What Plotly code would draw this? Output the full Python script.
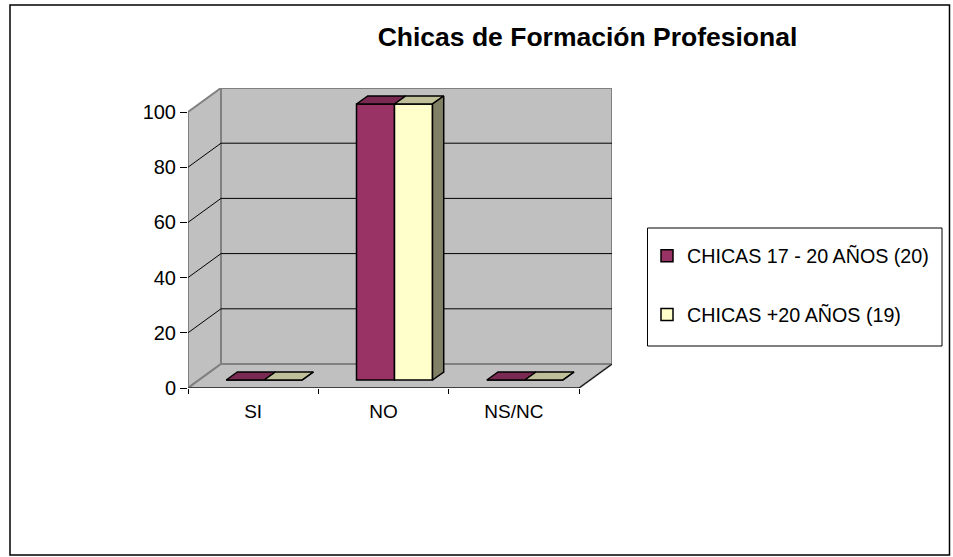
import plotly.graph_objects as go

categories = ["SI", "NO", "NS/NC"]
series_names = ["CHICAS 17 - 20 AÑOS (20)", "CHICAS +20 AÑOS (19)"]
values_a = [0, 100, 0]
values_b = [0, 100, 0]
y_ticks = [0, 20, 40, 60, 80, 100]
title_text = "Chicas de Formación Profesional"

W, H = 953, 557
FONT = "Liberation Sans, Arial, sans-serif"
L, R, BOT, TOP = 188, 612, 388, 88      # axis box in px (includes depth)
CAT_PX = (579 - 188) / 3
Y_PX = (388 - 112) / 100
DX = 33 / CAT_PX                         # full depth in x units
DY = 24 / Y_PX                           # full depth in y units
BW = 38 / CAT_PX
NEAR_X, NEAR_Y = DX / 3, DY / 3          # bars start a third into the depth
DEEP_X, DEEP_Y = DX * 0.34, DY / 3       # bars' own depth

WALL = "#C0C0C0"
EDGE = "#808080"
COL_A, COL_A_TOP = "#993366", "#7A2952"
COL_B, COL_B_TOP, COL_B_SIDE = "#FFFFCC", "#BFBF99", "#808066"


def poly(pts):
    return "M" + "L".join(f"{x},{y}" for x, y in pts) + "Z"


x0, x1 = -0.5, 2.5
shapes = []
# walls and floor
for pts in [
    [(x0 + DX, DY), (x1 + DX, DY), (x1 + DX, 100 + DY), (x0 + DX, 100 + DY)],
    [(x0, 0), (x0 + DX, DY), (x0 + DX, 100 + DY), (x0, 100)],
    [(x0, 0), (x1, 0), (x1 + DX, DY), (x0 + DX, DY)],
]:
    shapes.append(dict(type="path", path=poly(pts), xref="x", yref="y", layer="below",
                       fillcolor=WALL, line=dict(color=EDGE, width=2)))
# gridlines
for t in y_ticks[1:-1]:
    shapes.append(dict(type="path", xref="x", yref="y", layer="below",
                       path=f"M{x0},{t}L{x0 + DX},{t + DY}L{x1 + DX},{t + DY}",
                       line=dict(color="black", width=1)))
# front floor edge
shapes.append(dict(type="path", xref="x", yref="y", layer="below",
                   path=f"M{x0},0L{x1},0L{x1 + DX},{DY}",
                   line=dict(color="black", width=1)))
# legend box and outer frame
shapes.append(dict(type="rect", xref="paper", yref="paper", layer="below",
                   x0=647.5 / W, x1=942 / W, y0=1 - 346 / H, y1=1 - 228 / H,
                   line=dict(color="black", width=1), fillcolor="white"))
shapes.append(dict(type="rect", xref="paper", yref="paper", layer="below",
                   x0=10 / W, x1=949.5 / W, y0=1 - 555 / H, y1=1 - 5 / H,
                   line=dict(color="black", width=1.5), fillcolor="rgba(0,0,0,0)"))

fig = go.Figure()
LINE = dict(color="black", width=1.5)
for i, (name, vals, col) in enumerate(zip(series_names, [values_a, values_b], [COL_A, COL_B])):
    left = [k + NEAR_X - BW + i * BW for k in range(len(categories))]
    fig.add_trace(go.Bar(x=[k for k in range(len(categories))], y=vals, base=NEAR_Y, width=BW,
                         offset=[l - k for k, l in enumerate(left)],
                         marker=dict(color=col, line=LINE), name=name,
                         legendgroup=name, hoverinfo="skip"))

for i, (vals, top_col) in enumerate(zip([values_a, values_b], [COL_A_TOP, COL_B_TOP])):
    for k, v in enumerate(vals):
        a = k + NEAR_X - BW + i * BW
        b = a + BW
        h = v + NEAR_Y
        fig.add_trace(go.Scatter(
            x=[a, b, b + DEEP_X, a + DEEP_X, a], y=[h, h, h + DEEP_Y, h + DEEP_Y, h],
            mode="lines", fill="toself", fillcolor=top_col, line=LINE,
            showlegend=False, hoverinfo="skip"))
        if i == 1:
            fig.add_trace(go.Scatter(
                x=[b, b + DEEP_X, b + DEEP_X, b, b],
                y=[NEAR_Y, NEAR_Y + DEEP_Y, h + DEEP_Y, h, NEAR_Y],
                mode="lines", fill="toself", fillcolor=COL_B_SIDE, line=LINE,
                showlegend=False, hoverinfo="skip"))

# invisible trace that carries the category tick labels
fig.add_trace(go.Scatter(x=[0, 1, 2], y=[0, 0, 0], xaxis="x2", mode="none",
                         showlegend=False, hoverinfo="skip"))

dom_x = [L / W, R / W]
x_range = [x0, x1 + DX]
fig.update_layout(
    width=W, height=H, margin=dict(l=0, r=0, t=0, b=0, autoexpand=False),
    paper_bgcolor="white", plot_bgcolor="rgba(0,0,0,0)",
    barmode="overlay", font=dict(family=FONT, color="black"),
    title=dict(text=f"<b>{title_text}</b>", x=587.5 / W, xanchor="center", y=1 - 37 / H,
               yanchor="middle", font=dict(size=26.5, family=FONT, color="black")),
    xaxis=dict(domain=dom_x, range=x_range, tickmode="array", tickvals=[-0.5, 0.5, 1.5, 2.5],
               ticktext=["", "", "", ""], ticks="outside", ticklen=5, tickcolor="black",
               showgrid=False, zeroline=False, showline=False),
    xaxis2=dict(domain=dom_x, range=x_range, overlaying="x", anchor="y", side="bottom",
                tickmode="array", tickvals=[0, 1, 2], ticktext=categories, ticks="",
                ticklabelstandoff=10, tickfont=dict(size=19, family=FONT, color="black"),
                showgrid=False, zeroline=False, showline=False),
    yaxis=dict(domain=[1 - BOT / H, 1 - TOP / H], range=[0, 100 + DY], tickmode="array",
               tickvals=y_ticks, ticks="outside", ticklen=7, tickcolor="black",
               tickfont=dict(size=20, family=FONT, color="black"),
               showgrid=False, zeroline=False, showline=False),
    shapes=shapes,
    showlegend=True,
    legend=dict(x=647 / W, xanchor="left", y=1 - 285.5 / H, yanchor="middle",
                bgcolor="rgba(0,0,0,0)", borderwidth=0, tracegroupgap=30,
                font=dict(size=19.7, family=FONT, color="black")),
)
fig.write_html("out.html", default_width=f"{W}px", default_height=f"{H}px",
               config={"displayModeBar": False},
               post_script="document.documentElement.style.margin='0';document.body.style.margin='0';")
